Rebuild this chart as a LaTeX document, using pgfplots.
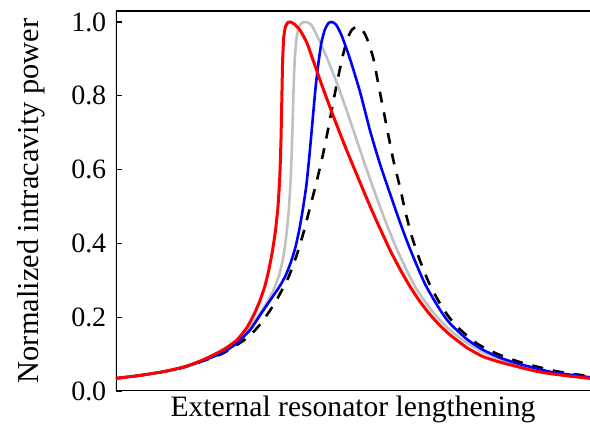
\documentclass[border=0pt]{standalone}
\usepackage{pgfplots}
\pgfplotsset{compat=1.18}
\usepackage{fontspec}
\setmainfont{Liberation Serif}
\definecolor{lgray}{RGB}{192,192,192}
\begin{document}
\fontsize{14}{17}\selectfont
\begin{tikzpicture}
\begin{axis}[
  name=ax,
  scale only axis,
  width=237pt, height=190pt,
  xmin=116, xmax=590, ymin=0, ymax=1.0298,
  xtick=\empty,
  ytick={0,0.2,0.4,0.6,0.8,1.0},
  ytick pos=left,
  tick align=inside,
  major tick length=3pt,
  tick style={black, line width=0.6pt},
  yticklabel style={/pgf/number format/fixed, /pgf/number format/fixed zerofill, /pgf/number format/precision=1, /pgf/number format/assume math mode=true, font=\fontsize{14}{17}\selectfont},
  axis line style={draw=none},
  ylabel={Normalized intracavity power},
  xlabel={External resonator lengthening},
  ylabel style={font=\fontsize{15.2}{18}\selectfont},
  xlabel style={font=\fontsize{14.8}{18}\selectfont, yshift=2.5pt},
  ylabel shift=3.5pt,
  clip=true,
]
\draw[black, line width=0.7pt] (rel axis cs:1,1) -- (rel axis cs:0,1) -- (rel axis cs:0,0) -- (rel axis cs:1,0);
\addplot[black, line width=1.3pt, dash pattern=on 5.5pt off 5pt, smooth, tension=0.4] coordinates {
(116,0.034)(140,0.042)(165,0.053)(185,0.065)(203,0.081)(223,0.102)(243.3,0.136)(250,0.15)
(260,0.18)(268,0.21)(276.7,0.247)(288.3,0.307)(296.7,0.368)(303.3,0.427)(310,0.497)
(316.7,0.568)(323.3,0.645)(328.3,0.712)(333.3,0.784)(338.3,0.852)(343.3,0.914)(348,0.958)
(352,0.979)(357,0.987)(362,0.98)(367,0.955)(373.3,0.902)(378.3,0.832)(383.3,0.763)(388.3,0.694)
(393.3,0.626)(400,0.552)(405,0.49)(411.7,0.42)(420,0.353)(430,0.287)(443.3,0.222)(456.7,0.175)
(476.7,0.129)(496.7,0.101)(520,0.078)(550,0.057)(570,0.047)(590,0.04)
};
\addplot[lgray, line width=1.3pt, smooth, tension=0.4] coordinates {
(116,0.034)(140,0.042)(165,0.053)(185,0.066)(203,0.083)(223,0.109)(237,0.134)(250,0.172)
(260,0.21)(267,0.24)(273.3,0.272)(279,0.313)(283.3,0.362)(286.3,0.42)(288.5,0.48)(290.2,0.55)
(291.5,0.63)(292.6,0.72)(293.6,0.82)(294.8,0.9)(296.7,0.96)(299.5,0.99)(303,0.999)(306,1.0)
(311,0.993)(316.7,0.965)(326.7,0.904)(336.7,0.836)(346.7,0.76)(356.7,0.68)(366.7,0.6)(381.7,0.487)
(396.7,0.385)(415,0.283)(433,0.213)(450,0.165)(467,0.13)(483,0.105)(500,0.086)(517,0.071)
(535,0.058)(550,0.05)(570,0.042)(590,0.036)
};
\addplot[blue, line width=1.3pt, smooth, tension=0.4] coordinates {
(116,0.034)(140,0.042)(165,0.053)(185,0.065)(203,0.082)(223,0.104)(237,0.13)(250,0.165)
(260,0.205)(270,0.245)(280,0.285)(286,0.315)(291,0.35)(295.5,0.39)(299.5,0.44)(303,0.495)(306.5,0.56)
(309.5,0.64)(312.5,0.73)(315.5,0.82)(318.5,0.89)(321.5,0.945)(325,0.98)(328.5,0.997)(331.7,1.0)
(336,0.993)(341.7,0.963)(350,0.9)(360,0.811)(370,0.706)(380,0.615)(390,0.535)(400,0.457)
(410,0.385)(425,0.29)(440,0.22)(450,0.183)(467,0.14)(483.3,0.111)(500,0.09)(516.7,0.075)
(535,0.062)(550,0.052)(570,0.044)(590,0.037)
};
\addplot[red, line width=1.5pt, smooth, tension=0.3] coordinates {
(116,0.034)(140,0.042)(165,0.053)(185,0.066)(203,0.084)(223,0.111)(237,0.138)(247,0.172)
(254,0.207)(260,0.245)(265,0.285)(269,0.33)(272.5,0.38)(275.5,0.435)(278,0.5)(279.8,0.58)
(281,0.68)(281.9,0.8)(282.7,0.9)(283.8,0.96)(285.5,0.988)(288,0.999)(290,1.0)(294,0.995)
(300,0.978)(306.7,0.945)(313.3,0.895)(320,0.843)(326.7,0.793)(333.3,0.745)(340,0.698)
(346.7,0.652)(356.7,0.587)(366.7,0.522)(376.7,0.46)(390,0.382)(400,0.33)(410,0.283)
(420,0.242)(430,0.207)(440,0.177)(450,0.152)(467,0.117)(483,0.093)(500,0.078)(517,0.066)
(535,0.054)(550,0.047)(570,0.040)(590,0.034)
};
\end{axis}
\pgfresetboundingbox
\path[use as bounding box] ([xshift=-58pt,yshift=-17.5pt]ax.south west) rectangle ([yshift=5.5pt]ax.north east);
\end{tikzpicture}
\end{document}
